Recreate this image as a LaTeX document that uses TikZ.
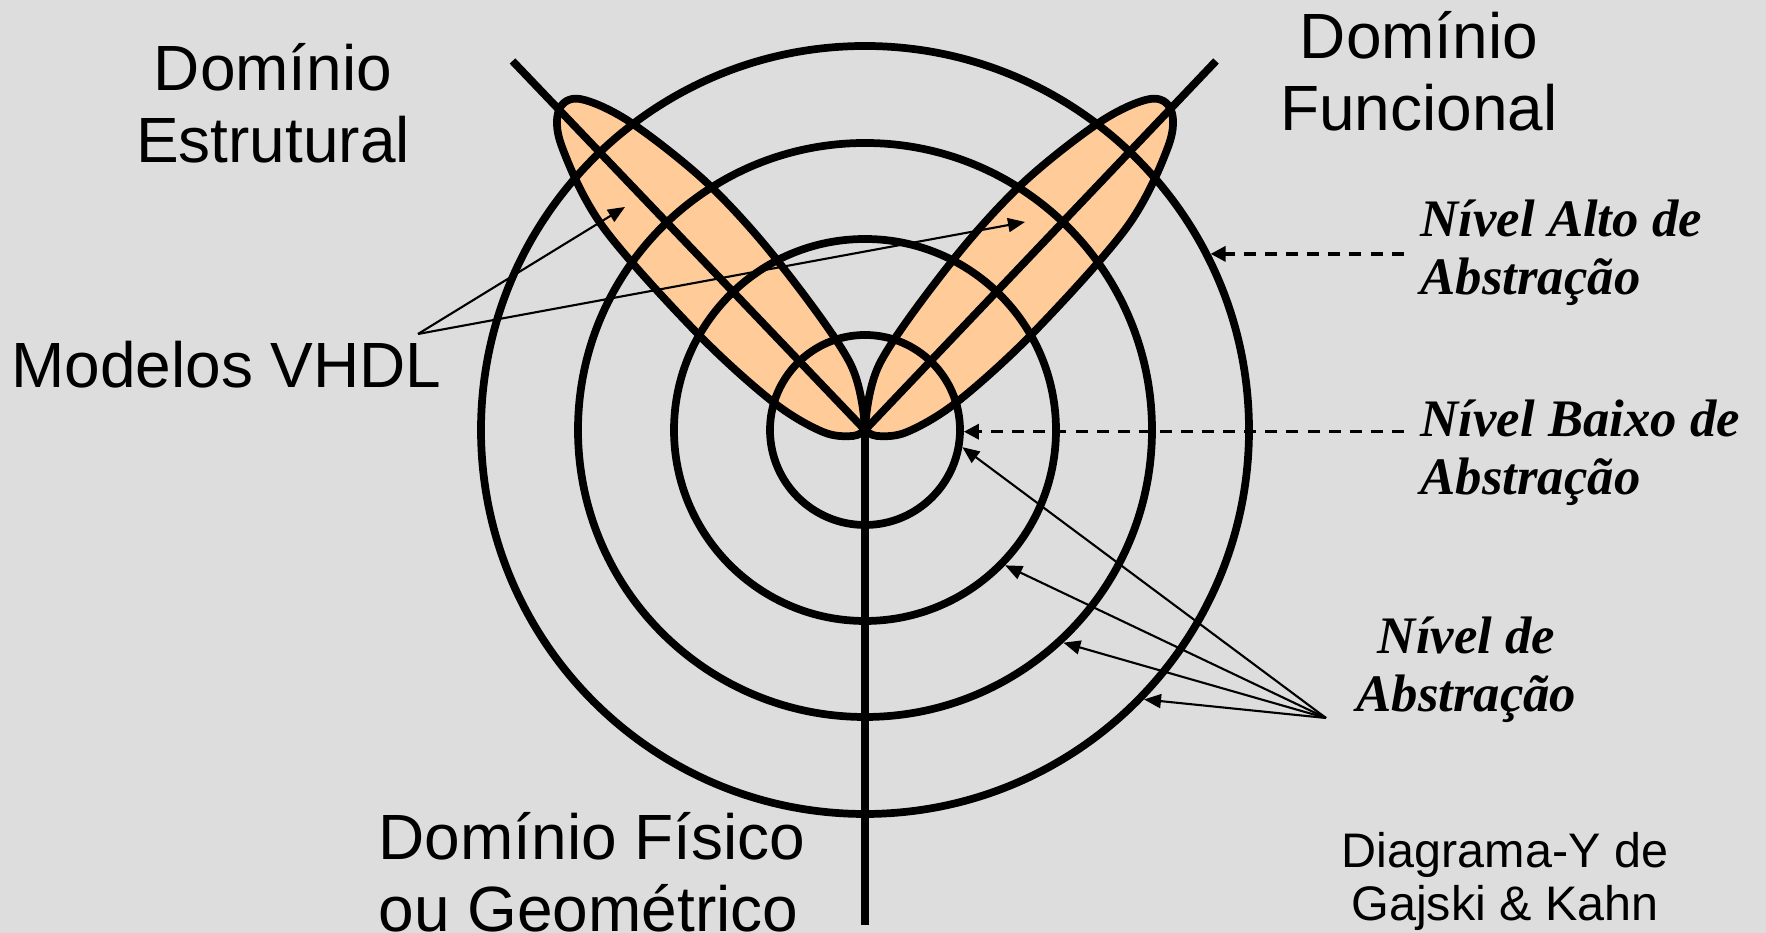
\documentclass[tikz,border=0pt]{standalone}
\usepackage{fontspec}
\setmainfont{Liberation Sans}
\newfontfamily\timesfont{Liberation Serif}
\usetikzlibrary{arrows.meta, positioning}
\definecolor{bggray}{RGB}{221,221,221}
\definecolor{peach}{RGB}{255,204,153}

\begin{document}
\begin{tikzpicture}[
    ring/.style={circle, draw, line width=2.2pt, inner sep=0pt},
    axisline/.style={line width=2.2pt},
    leaf/.style={draw, fill=peach, line width=2.2pt, line join=round},
    dom/.style={font=\fontsize{18.2}{20.5}\selectfont, align=center, inner sep=0pt},
    lvl/.style={font=\timesfont\bfseries\itshape\fontsize{15}{16.5}\selectfont,
                align=left, inner sep=0pt},
    ptr/.style={-{Triangle[length=1.7mm, width=1.4mm]}, line width=0.6pt},
    dptr/.style={-{Triangle[length=1.5mm, width=1.5mm]}, line width=0.95pt,
                 dash pattern=on 3.4pt off 2.6pt},
]
\useasboundingbox (0,0) rectangle (17.66,9.33);
\fill[bggray] (0,0) rectangle (17.66,9.33);

\coordinate (O) at (8.65,5.03);
\coordinate (lstr) at (5.125,8.72);
\coordinate (lfun) at (12.16,8.72);
\coordinate (lfis) at (8.65,0.08);

% the two leaves (mirror images)
\foreach \s in {1,-1}
  \draw[leaf, shift={(O)}, xscale=\s] plot[smooth, tension=0.55] coordinates {
      (0,0) (-0.15,0.67) (-0.88,1.70) (-1.58,2.47) (-2.35,3.08) (-2.85,3.31)
      (-3.06,3.20) (-3.03,2.83) (-2.62,2.03) (-1.68,0.97) (-0.92,0.28)
      (-0.42,-0.02) (-0.12,-0.06) (0,0)} -- cycle;

% abstraction levels
\foreach \d [count=\i] in {1.9cm,3.82cm,5.74cm,7.68cm}
  \node[ring, minimum size=\d] (r\i) at (O) {};

\draw[axisline] (lstr) -- (O) -- (lfis);
\draw[axisline] (O) -- (lfun);

\node[dom, anchor=base] (estr) at (2.73,7.70) {Domínio\\Estrutural};
\node[dom, anchor=base] (func) at (14.19,8.02) {Domínio\\Funcional};
\node[dom, anchor=base] (mod) at (2.265,5.45) {Modelos VHDL};
\node[dom, anchor=base west, align=left] (fis) at (3.78,0.01) {Domínio Físico\\ou Geométrico};
\node[font=\fontsize{13.8}{15.1}\selectfont, align=center, inner sep=0pt,
      anchor=base] (gk) at (15.05,0.126) {Diagrama-Y de\\Gajski \& Kahn};
\node[lvl, anchor=base west] (alto) at (14.2,6.38) {Nível Alto de\\Abstração};
\node[lvl, anchor=base west] (baixo) at (14.2,4.38) {Nível Baixo de\\Abstração};
\node[lvl, anchor=base, align=center] (nivel) at (14.665,2.213) {Nível de\\Abstração};

% pointers
\coordinate (mv) at (4.18,5.99);
\coordinate (ltip) at (6.25,7.26);
\coordinate (rtip) at (10.25,7.11);
\draw[ptr] (mv) -- (ltip);
\draw[ptr] (mv) -- (rtip);

\coordinate (nv) at (13.26,2.15);
\foreach \c/\a in {r1/-10, r2/-44, r3/-47, r4/-44}
  \draw[ptr] (nv) -- (\c.\a);

\path (r4.27) ++(1.93,0) coordinate (altoend);
\draw[dptr] (altoend) -- (r4.27);
\path (r1.-1) ++(4.40,0) coordinate (baixoend);
\draw[dptr] (baixoend) -- (r1.-1);
\end{tikzpicture}
\end{document}
